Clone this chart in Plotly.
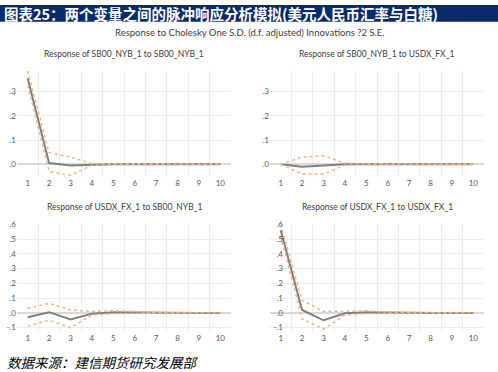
import plotly.graph_objects as go

periods = [1, 2, 3, 4, 5, 6, 7, 8, 9, 10]

# Response of SB00_NYB_1 to SB00_NYB_1
sb_sb_resp = [0.355, 0.005, -0.005, -0.002, 0.0, 0.0, 0.0, 0.0, 0.0, 0.0]
sb_sb_up = [0.385, 0.048, 0.030, 0.003, 0.002, 0.001, 0.0, 0.0, 0.0, 0.0]
sb_sb_lo = [0.325, -0.030, -0.045, -0.004, -0.001, -0.001, 0.0, 0.0, 0.0, 0.0]

# Response of SB00_NYB_1 to USDX_FX_1
sb_fx_resp = [0.0, -0.010, -0.005, 0.0, 0.0, 0.0, 0.0, 0.0, 0.0, 0.0]
sb_fx_up = [0.0, 0.030, 0.035, 0.005, 0.003, 0.002, 0.0, 0.0, 0.0, 0.0]
sb_fx_lo = [0.0, -0.040, -0.040, -0.003, -0.002, -0.001, 0.0, 0.0, 0.0, 0.0]

# Response of USDX_FX_1 to SB00_NYB_1
fx_sb_resp = [-0.030, 0.005, -0.045, -0.005, 0.005, 0.003, 0.001, 0.0, 0.0, 0.0]
fx_sb_up = [0.030, 0.065, 0.020, 0.010, 0.015, 0.008, 0.003, 0.001, 0.0, 0.0]
fx_sb_lo = [-0.090, -0.050, -0.100, -0.015, -0.005, -0.002, -0.001, 0.0, 0.0, 0.0]

# Response of USDX_FX_1 to USDX_FX_1
fx_fx_resp = [0.560, 0.020, -0.050, -0.003, 0.005, 0.002, 0.0, 0.0, 0.0, 0.0]
fx_fx_up = [0.600, 0.085, 0.010, 0.015, 0.015, 0.005, 0.003, 0.0, 0.0, 0.0]
fx_fx_lo = [0.520, -0.040, -0.110, -0.015, -0.005, -0.003, -0.001, 0.0, 0.0, 0.0]

top_tickvals = [0.0, 0.1, 0.2, 0.3]
top_ticktext = [".0", ".1", ".2", ".3"]
bot_tickvals = [-0.1, 0.0, 0.1, 0.2, 0.3, 0.4, 0.5, 0.6]
bot_ticktext = ["-.1", ".0", ".1", ".2", ".3", ".4", ".5", ".6"]
x_ticktext = [str(p) for p in periods]

panel_titles = [
    "Response of SB00_NYB_1 to SB00_NYB_1",
    "Response of SB00_NYB_1 to USDX_FX_1",
    "Response of USDX_FX_1 to SB00_NYB_1",
    "Response of USDX_FX_1 to USDX_FX_1",
]
main_title = "Response to Cholesky One S.D. (d.f. adjusted) Innovations ?2 S.E."
header = "图表25：两个变量之间的脉冲响应分析模拟(美元人民币汇率与白糖)"
source = "数据来源：建信期货研究发展部"

W, H = 498, 372
def px_x(a, b):
    return [a / W, b / W]
def px_y(top, bottom):
    return [1 - bottom / H, 1 - top / H]

panels = [
    (sb_sb_resp, sb_sb_up, sb_sb_lo, px_x(17, 231), px_y(67, 175), [-0.053, 0.385], top_tickvals, top_ticktext, 0),
    (sb_fx_resp, sb_fx_up, sb_fx_lo, px_x(270, 484), px_y(67, 175), [-0.053, 0.385], top_tickvals, top_ticktext, 0),
    (fx_sb_resp, fx_sb_up, fx_sb_lo, px_x(17, 231), px_y(223, 332), [-0.127, 0.6], bot_tickvals, bot_ticktext, 0),
    (fx_fx_resp, fx_fx_up, fx_fx_lo, px_x(270, 484), px_y(223, 332), [-0.127, 0.6], bot_tickvals, bot_ticktext, -14),
]

GRAY = "#808080"
ORANGE = "#f4b183"
TICKFONT = dict(family="Lato, Open Sans, sans-serif", size=8, color="#595959")

fig = go.Figure()
layout = dict(
    width=W, height=H, margin=dict(l=0, r=0, t=0, b=0),
    paper_bgcolor="white", plot_bgcolor="white", showlegend=False,
)

for i, (resp, up, lo, xd, yd, yr, tv, tt, standoff) in enumerate(panels):
    n = "" if i == 0 else str(i + 1)
    xa, ya = "x" + n, "y" + n
    for series, color, width, dash in [(resp, GRAY, 2, "solid"), (up, ORANGE, 1.4, "dot"), (lo, ORANGE, 1.4, "dot")]:
        fig.add_trace(go.Scatter(x=periods, y=series, mode="lines", xaxis=xa, yaxis=ya,
                                 line=dict(color=color, width=width, dash=dash), hoverinfo="skip"))
    layout["xaxis" + n] = dict(
        domain=xd, anchor=ya, range=[0.5, 10.5], tickvals=periods, ticktext=x_ticktext,
        showgrid=False, zeroline=False, showline=False, ticks="", tickfont=TICKFONT,
        minor=dict(tickvals=[p + 0.5 for p in periods[:-1]], showgrid=True, gridcolor="#ececec", gridwidth=1, ticks=""),
    )
    ya_dict = dict(
        domain=yd, anchor=xa, range=yr, tickvals=tv, ticktext=tt,
        showgrid=True, gridcolor="#ececec", gridwidth=1,
        zeroline=True, zerolinecolor="#d9d9d9", zerolinewidth=2,
        showline=False, ticks="", tickfont=TICKFONT,
    )
    if standoff:
        ya_dict["ticklabelstandoff"] = standoff
    layout["yaxis" + n] = ya_dict

annotations = []
title_pos = [(124, 50), (377, 50), (125, 205), (377, 205)]
for t, (cx, cy) in zip(panel_titles, title_pos):
    annotations.append(dict(text=t, x=cx / W, y=1 - cy / H, xref="paper", yref="paper",
                            xanchor="center", yanchor="middle", showarrow=False,
                            font=dict(family="Lato, Open Sans, sans-serif", size=8.5, color="#404040")))
annotations.append(dict(text=main_title, x=250 / W, y=1 - 28 / H, xref="paper", yref="paper",
                        xanchor="center", yanchor="middle", showarrow=False,
                        font=dict(family="Lato, Open Sans, sans-serif", size=9.5, color="#404040")))
annotations.append(dict(text="<b>" + header + "</b>", x=2 / W, y=1 - 8.5 / H, xref="paper", yref="paper",
                        xanchor="left", yanchor="middle", showarrow=False,
                        font=dict(family="Noto Sans CJK SC", size=14.5, color="white")))
annotations.append(dict(text="<i>" + source + "</i>", x=5 / W, y=1 - 363 / H, xref="paper", yref="paper",
                        xanchor="left", yanchor="middle", showarrow=False,
                        font=dict(family="Noto Sans CJK SC", size=13.5, color="black")))
layout["annotations"] = annotations
layout["shapes"] = [dict(type="rect", xref="paper", yref="paper", x0=0, x1=1, y0=1 - 17 / H, y1=1,
                         fillcolor="#0b2a6b", line=dict(width=0), layer="below")]

fig.update_layout(**layout)
fig.write_html("out.html", config={"displayModeBar": False},
               post_script="document.body.style.margin='0';document.body.style.padding='0';")
